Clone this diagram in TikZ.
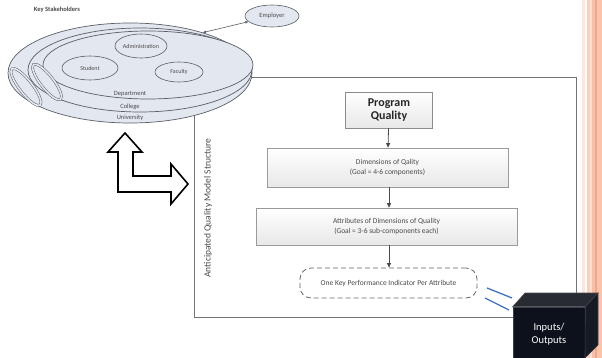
\documentclass[tikz,border=0pt]{standalone}
\usepackage{fontspec}
\setmainfont{Carlito}
\usetikzlibrary{shapes.geometric,arrows.meta}
\definecolor{ellfill}{HTML}{E3E7EF}
\definecolor{ellline}{HTML}{5A5E66}
\definecolor{txtgray}{HTML}{4A4A4A}
\definecolor{boxline}{HTML}{9A9A9A}
\definecolor{flowline}{HTML}{4A4A4A}
\definecolor{iolink}{HTML}{3F72C0}
\begin{document}
\begin{tikzpicture}[x=1pt,y=-1pt,
  ring/.style={ellipse, draw=ellline, line width=0.7pt, fill=ellfill, inner sep=0pt},
  member/.style={ellipse, draw=ellline, line width=0.6pt, fill=ellfill, inner sep=0pt, font=\fontsize{6}{7}\selectfont, text=txtgray},
  ringlabel/.style={font=\fontsize{6.5}{7.5}\selectfont, text=txtgray, inner sep=0pt},
  flowbox/.style={draw=boxline, line width=0.6pt, top color=white, bottom color=black!9, align=center, font=\fontsize{7.5}{9.5}\selectfont, text=txtgray, inner sep=0pt},
  flowarrow/.style={draw=flowline, line width=0.8pt, -{Triangle[length=4.5pt,width=4pt]}}
]
\useasboundingbox (0,0) rectangle (602,358);
% right decorative stripes
\fill[fill={rgb,255:red,253;green,230;blue,220}] (582,0) rectangle (585,358);
\fill[fill={rgb,255:red,251;green,208;blue,189}] (587,0) rectangle (590,358);
\fill[fill={rgb,255:red,253;green,224;blue,210}] (590,0) rectangle (592,358);
\fill[fill={rgb,255:red,248;green,192;blue,168}] (592,0) rectangle (595,358);
\fill[fill={rgb,255:red,242;green,168;blue,136}] (595,0) rectangle (597,358);
\fill[fill={rgb,255:red,250;green,196;blue,171}] (597,0) rectangle (602,358);

% structure frame
\node[draw=black!55, line width=0.6pt, minimum width=382pt, minimum height=240pt, inner sep=0pt] (frame) at (385,197) {};
\node[rotate=90, font=\fontsize{9.5}{11}\selectfont, text=txtgray, inner sep=0pt] (amqs) at (208,208) {Anticipated Quality Model Structure};

% stakeholders
\node[font=\bfseries\fontsize{6.5}{7.5}\selectfont, text=txtgray, inner sep=0pt] (ks) at (57,10) {Key Stakeholders};
\node[ring, minimum width=244pt, minimum height=100pt] (univ) at (130,73) {};
\node[ring, minimum width=224pt, minimum height=84pt] (coll) at (140,70) {};
\node[ring, minimum width=210pt, minimum height=68pt] (dept) at (148,65) {};
\node[member, minimum width=52pt, minimum height=24pt] (adm) at (141,46) {Administration};
\node[member, minimum width=56pt, minimum height=24pt] (stu) at (90,68) {Student};
\node[member, minimum width=48pt, minimum height=20pt] (fac) at (179,72) {Faculty};
\node[ringlabel] (ldept) at (130,94) {Department};
\node[ringlabel] (lcoll) at (130,107) {College};
\node[ringlabel] (luniv) at (130,118) {University};
\node[ellipse, draw=ellline, line width=0.5pt, double=ellfill, double distance=1.6pt, fill=ellfill, minimum width=46pt, minimum height=13pt, rotate=-52, inner sep=0pt] (sm1) at (26,87) {};
\node[ellipse, draw=ellline, line width=0.5pt, double=ellfill, double distance=1.6pt, fill=ellfill, minimum width=44pt, minimum height=13pt, rotate=-52, inner sep=0pt] (sm2) at (47,82) {};
\node[member, minimum width=54pt, minimum height=22pt, font=\fontsize{6.5}{7.5}\selectfont] (emp) at (272,16) {Employer};
\draw[ellline, line width=0.6pt, {Triangle[length=3pt,width=2.5pt]}-{Triangle[length=3pt,width=2.5pt]}] (univ.29) -- (emp);

% double arrow shape
\draw[line width=1.6pt, fill=white, line join=miter] (125,133) -- (142,152) -- (133,152) -- (133,176) -- (171,176) -- (171,164) -- (188,184) -- (171,204) -- (171,192) -- (118,192) -- (118,152) -- (108,152) -- cycle;

% flow
\node[flowbox, minimum width=87pt, minimum height=36pt, font=\bfseries\fontsize{12}{13.5}\selectfont, text=black!85, draw=black!45] (pq) at (389,110) {Program\\Quality};
\node[flowbox, minimum width=241pt, minimum height=39pt] (dim) at (387.5,167.5) {Dimensions of Qality\\(Goal = 4-6 components)};
\node[flowbox, minimum width=261pt, minimum height=37pt] (attr) at (386.5,226.5) {Attributes of Dimensions of Quality\\(Goal = 3-6 sub-components each)};
\node[draw=black!60, dashed, dash pattern=on 5pt off 3pt, line width=0.8pt, rounded corners=11pt, minimum width=177pt, minimum height=30pt, fill=white, font=\fontsize{7.5}{9}\selectfont, text=txtgray, inner sep=0pt] (kpi) at (388.5,283) {One Key Performance Indicator Per Attribute};
\draw[flowarrow] (pq) -- (dim);
\draw[flowarrow] (dim.south -| pq) -- (attr.north -| pq);
\draw[flowarrow] (attr.south -| pq) -- (kpi.north -| pq);

% link lines
\coordinate (l1a) at (487,288); \coordinate (l1b) at (512,298);
\coordinate (l2a) at (485,298); \coordinate (l2b) at (509,310);
\draw[iolink, line width=1.3pt] (l1a) -- (l1b);
\draw[iolink, line width=1.3pt] (l2a) -- (l2b);

% inputs/outputs cube
\node[fill={rgb,255:red,13;green,17;blue,28}, draw={rgb,255:red,60;green,64;blue,74}, line width=0.6pt, minimum width=72pt, minimum height=54pt, inner sep=0pt, align=center, text=white, font=\fontsize{10.5}{13}\selectfont] (io) at (549,334) {Inputs/\\Outputs};
\fill[fill={rgb,255:red,40;green,43;blue,50}, draw={rgb,255:red,70;green,74;blue,82}, line width=0.6pt] (io.north west) -- (525,293) -- (598,293) -- (io.north east) -- cycle;
\fill[fill={rgb,255:red,22;green,26;blue,36}, draw={rgb,255:red,60;green,64;blue,74}, line width=0.6pt] (io.north east) -- (598,293) -- (598,345) -- (585,358) -- cycle;
\end{tikzpicture}
\end{document}
